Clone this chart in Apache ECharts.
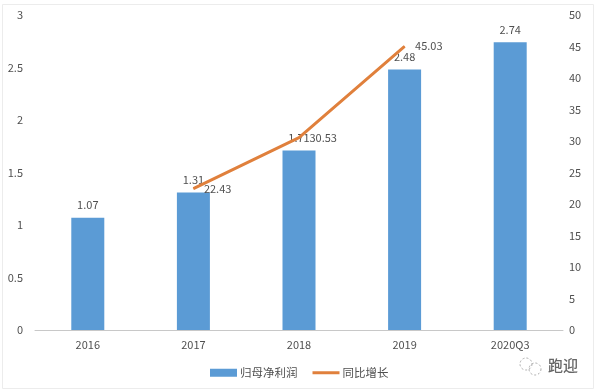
<!DOCTYPE html>
<html><head><meta charset="utf-8"><style>html,body{margin:0;padding:0;background:#fff}#c{width:595px;height:392px}</style>
<script src="https://cdn.jsdelivr.net/npm/echarts@6/dist/echarts.min.js"></script></head>
<body><div id="c"></div><script>
const categories=['2016','2017','2018','2019','2020Q3'];
const profit=[1.07,1.31,1.71,2.48,2.74];
const growth=[null,22.43,30.53,45.03,null];
const leftTicks=['0','0.5','1','1.5','2','2.5','3'];
const chart=echarts.init(document.getElementById('c'),null,{renderer:'canvas'});
const txt={color:'#505050',fontSize:11,fontFamily:'"Noto Sans CJK SC","Liberation Sans",sans-serif'};
chart.setOption({
 animation:false,backgroundColor:'#fff',
 grid:{left:35,right:32,top:15,bottom:62},
 legend:{left:205,top:362,itemWidth:27,itemHeight:8,itemGap:15,textStyle:{...txt,fontSize:11.5,padding:[0,0,0,-2]},
  data:[{name:'归母净利润',icon:'rect'},{name:'同比增长',icon:'path://M0,0H27V3H0Z'}]},
 xAxis:{type:'category',data:categories,axisTick:{show:false},axisLine:{lineStyle:{color:'#c8c8c8'}},axisLabel:{...txt,margin:9}},
 yAxis:[
 {type:'value',min:0,max:3,interval:0.5,position:'left',axisLine:{show:false},axisTick:{show:false},axisLabel:{...txt,margin:12,formatter:v=>leftTicks[Math.round(v*2)]},splitLine:{show:false}},
 {type:'value',min:0,max:50,interval:5,position:'right',axisLine:{show:false},axisTick:{show:false},axisLabel:{...txt,margin:6},splitLine:{show:false}}],
 series:[
 {name:'归母净利润',type:'bar',data:profit,barWidth:33,itemStyle:{color:'#5b9bd5'},label:{show:true,position:'top',distance:7,...txt}},
 {name:'同比增长',type:'line',yAxisIndex:1,data:growth,symbol:'circle',symbolSize:1,connectNulls:false,lineStyle:{color:'#e0803c',width:3},itemStyle:{color:'#e0803c'},label:{show:true,position:'right',distance:10,...txt}}
 ],
 graphic:[
  {type:'rect',shape:{x:2.5,y:4.5,width:591,height:384},style:{fill:null,stroke:'#ececec',lineWidth:1},silent:true},
  {type:'text',left:548,top:358,style:{text:'跑迎',fill:'#666',font:'500 15px "Noto Sans CJK SC"'}},
  {type:'circle',shape:{cx:526,cy:364,r:6},style:{fill:null,stroke:'#aaa',lineWidth:1,lineDash:[2,2]}},
  {type:'circle',shape:{cx:535,cy:369,r:6},style:{fill:null,stroke:'#aaa',lineWidth:1,lineDash:[2,2]}}
 ]
});
</script></body></html>
